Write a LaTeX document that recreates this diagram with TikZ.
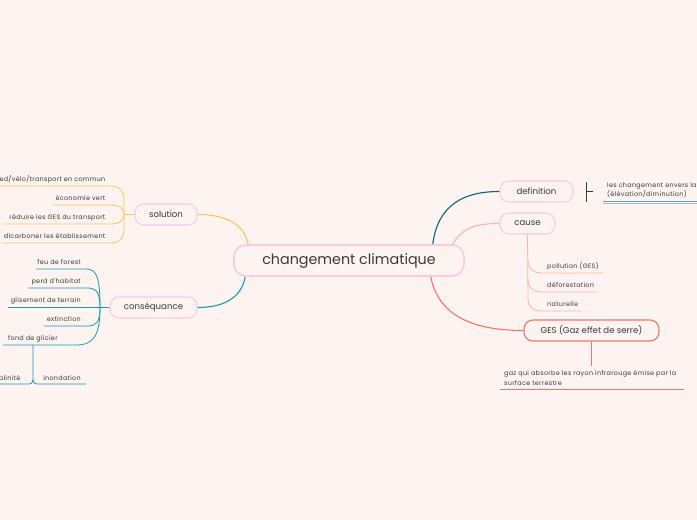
\documentclass[tikz,border=0pt]{standalone}
\usepackage{fontspec}
\setmainfont{Poppins}
\newfontfamily\leaffont[LetterSpace=5]{Poppins}
\definecolor{bg}{HTML}{FDF3F1}
\definecolor{pinkb}{HTML}{FBCBE2}
\definecolor{txt}{HTML}{3A3A3A}
\definecolor{yel}{HTML}{FFC75A}
\definecolor{teal}{HTML}{2398A6}
\definecolor{dteal}{HTML}{15606A}
\definecolor{lsal}{HTML}{FFB5AA}
\definecolor{sal}{HTML}{F3766B}
\definecolor{gteal}{HTML}{6F9EA3}
\definecolor{dark}{HTML}{2C3E42}
\tikzset{
  topic/.style={draw=pinkb, line width=1.1pt, fill=bg, rounded corners=9pt, minimum height=21pt, inner sep=0pt, text=txt, font=\fontsize{8.6}{10}\selectfont},
  centre/.style={draw=pinkb, line width=1.6pt, fill=bg, rounded corners=12pt, minimum height=31pt, minimum width=230pt, inner sep=0pt, text=txt, font=\fontsize{14.3}{16}\selectfont},
  leaf/.style={text=txt, inner sep=0pt, font=\leaffont\fontsize{6.4}{7.5}\selectfont},
  conn/.style={line width=1.1pt},
  sub/.style={line width=0.8pt},
}
\begin{document}
\begin{tikzpicture}[x=1pt,y=-1pt]
\fill[bg] (0,0) rectangle (697,520);
\useasboundingbox (0,0) rectangle (697,520);
\clip (0,0) rectangle (697,520);

% main nodes
\node[centre] (c) at (349,260.5) {changement climatique};
\node[topic, minimum width=62pt] (sol) at (166,214.5) {solution};
\node[topic, minimum width=87pt] (cons) at (153.5,307.5) {conséquance};
\node[topic, minimum width=73pt] (def) at (536.5,191.5) {definition};
\node[topic, minimum width=55pt] (cau) at (527.5,223.5) {cause};
\node[topic, draw=sal, minimum width=135pt] (ges) at (591.5,330.5) {GES (Gaz effet de serre)};

% main connectors
\draw[conn, yel] ([xshift=15pt]c.north west) .. controls +(-4,-22) and +(25,0) .. (sol.east);
\draw[conn, teal] ([xshift=12pt]c.south west) .. controls +(-4,22) and +(25,0) .. (cons.east);
\draw[conn, dteal] ([xshift=-32pt]c.north east) .. controls +(5,-40) and +(-35,0) .. (def.west);
\draw[conn, lsal] ([xshift=-12pt]c.north east) .. controls +(10,-18) and +(-20,0) .. (cau.west);
\draw[conn, sal] ([xshift=-34pt]c.south east) .. controls +(8,42) and +(-45,0) .. (ges.west);

% solution children
\coordinate (sb) at (124,214.5);
\coordinate (s1) at (0,186);
\coordinate (s2) at (52,205);
\coordinate (s3) at (3,224);
\coordinate (s4) at (2,243);
\draw[sub, yel] (sol.west) -- (sb);
\draw[sub, yel] (sb) -- (124,200) .. controls (124,190) and (119,186) .. (110,186) -- (s1);
\draw[sub, yel] (sb) .. controls (124,208) and (119,205) .. (110,205) -- (s2);
\draw[sub, yel] (sb) .. controls (124,221) and (119,224) .. (110,224) -- (s3);
\draw[sub, yel] (sb) -- (124,229) .. controls (124,239) and (119,243) .. (110,243) -- (s4);
\node[leaf, anchor=base east] (t1) at (105.5,181) {pied/vélo/transport en commun};
\node[leaf, anchor=base east] (t2) at (105.5,200) {économie vert};
\node[leaf, anchor=base east] (t3) at (105.5,219) {réduire les GES du transport};
\node[leaf, anchor=base east] (t4) at (105.5,238) {dicarboner les établissement};

% consequence children
\coordinate (cb) at (100,307.5);
\coordinate (k1) at (36,269);
\coordinate (k2) at (28,288);
\coordinate (k3) at (8,307.5);
\coordinate (k4) at (44,326);
\coordinate (k5) at (3,345);
\draw[sub, teal] (cons.west) -- (k3);
\draw[sub, teal] (cb) .. controls (100,278) and (97,269) .. (86,269) -- (k1);
\draw[sub, teal] (cb) .. controls (100,294) and (97,288) .. (88,288) -- (k2);
\draw[sub, teal] (cb) .. controls (100,321) and (97,326) .. (88,326) -- (k4);
\draw[sub, teal] (cb) .. controls (100,335) and (94,345) .. (76,345) -- (k5);
\node[leaf, anchor=base east] (u1) at (81,264) {feu de forest};
\node[leaf, anchor=base east] (u2) at (81,283) {perd d'habitat};
\node[leaf, anchor=base east] (u3) at (81,302) {glisement de terrain};
\node[leaf, anchor=base east] (u4) at (81,321) {extinction};
\node[leaf, anchor=base west] (u5) at (8,340) {fond de glicier};

% fond de glicier children
\coordinate (fb) at (33,345);
\coordinate (f1) at (0,384);
\coordinate (f2) at (86,384);
\draw[sub, teal] (fb) -- (33,380) .. controls (33,383) and (31,384) .. (29,384) -- (f1);
\draw[sub, teal] (33,380) .. controls (33,383) and (35,384) .. (37,384) -- (f2);
\node[leaf, anchor=base east] (v1) at (20.5,380) {salinité};
\node[leaf, anchor=base] (v2) at (62,380) {inondation};

% definition child
\coordinate (db) at (586,191.5);
\draw[line width=0.9pt, dark] (586,182) -- (586,202);
\draw[line width=0.9pt, dark] (db) -- (593,191.5);
\node[leaf, anchor=base west, align=left] (d1) at (607,187.5) {les changement envers la t};
\node[leaf, anchor=base west] (d2) at (607,196.5) {(élévation/diminution)};
\draw[line width=0.7pt, gteal] (603,201.5) -- (697,201.5);
\draw[line width=0.7pt, gteal!60!bg] (603,203.7) -- (697,203.7);

% cause children
\draw[sub, lsal] (cau.south) -- (528,298) .. controls (528,307) and (533,311) .. (542,311) -- (581,311);
\draw[sub, lsal] (528,260) .. controls (528,269) and (533,273) .. (542,273) -- (603,273);
\draw[sub, lsal] (528,279) .. controls (528,288) and (533,292) .. (542,292) -- (598,292);
\node[leaf, anchor=base west] (w1) at (547,268.5) {pollution (GES)};
\node[leaf, anchor=base west] (w2) at (547,287.5) {déforestation};
\node[leaf, anchor=base west] (w3) at (547,306.5) {naturelle};

% GES child
\coordinate (gb) at (591.5,366);
\draw[sub, sal] (ges.south) -- (gb);
\node[leaf, anchor=base west] (g1) at (504,375.5) {gaz qui absorbe les rayon infrarouge émise par la};
\node[leaf, anchor=base west] (g2) at (504,385) {surface terrestre};
\draw[sub, sal] (500,389.5) -- (684,389.5);
\end{tikzpicture}
\end{document}
